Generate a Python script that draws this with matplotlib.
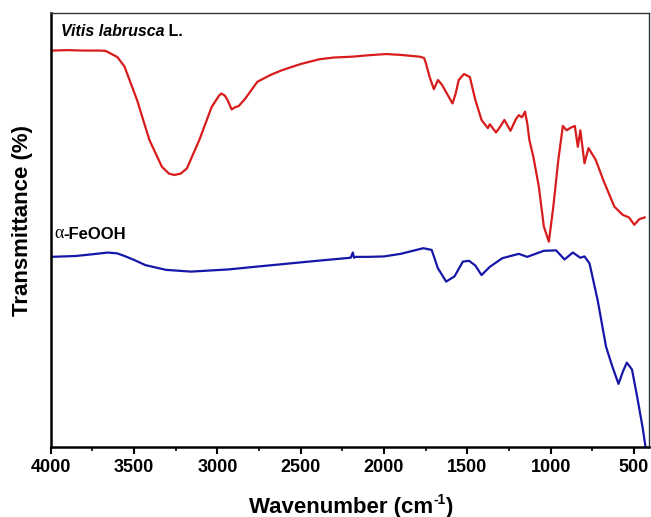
import matplotlib
matplotlib.use("Agg")
import matplotlib.pyplot as plt
import numpy as np

# FTIR spectra: wavenumber (cm^-1) and transmittance (arbitrary offset units)
vitis_wn = [3995, 3900, 3800, 3700, 3669, 3600, 3557, 3482, 3408, 3333, 3290, 3258,
            3220, 3183, 3108, 3034, 2990, 2976, 2955, 2939, 2914, 2895, 2872, 2835,
            2760, 2680, 2610, 2500, 2387, 2300, 2187, 2100, 1988, 1900, 1788, 1760,
            1751, 1727, 1701, 1676, 1652, 1620, 1589, 1570, 1552, 1520, 1485, 1452,
            1415, 1377, 1365, 1328, 1300, 1278, 1241, 1210, 1191, 1172, 1154, 1140,
            1128, 1104, 1071, 1041, 1011, 984, 954, 927, 904, 880, 855, 837, 822,
            797, 773, 730, 680, 618, 568, 530, 498, 468, 436]
vitis_t = [91.4, 91.5, 91.4, 91.4, 91.3, 89.9, 87.7, 80.0, 70.8, 64.6, 63.0, 62.7,
           63.0, 64.2, 70.8, 78.4, 81.0, 81.5, 81.0, 80.0, 77.8, 78.3, 78.6, 80.2,
           84.2, 85.8, 86.9, 88.3, 89.4, 89.8, 90.0, 90.3, 90.6, 90.4, 90.0, 89.7,
           88.8, 85.4, 82.5, 84.6, 83.5, 81.3, 79.2, 81.5, 84.6, 86.0, 85.3, 80.0,
           75.4, 73.5, 74.4, 72.5, 74.0, 75.4, 72.9, 75.5, 76.5, 76.0, 77.3, 74.5,
           70.8, 66.9, 60.0, 50.8, 47.3, 55.4, 66.2, 74.0, 73.0, 73.6, 74.0, 69.2,
           73.0, 65.4, 68.9, 66.2, 61.1, 55.4, 53.5, 52.9, 51.2, 52.5, 52.9]

feooh_wn = [4000, 3850, 3750, 3657, 3600, 3557, 3500, 3432, 3308, 3158, 2934, 2750,
            2561, 2400, 2200, 2187, 2180, 2170, 2100, 2000, 1900, 1764, 1714, 1677,
            1627, 1577, 1527, 1490, 1452, 1415, 1365, 1290, 1191, 1141, 1041, 967,
            917, 867, 822, 797, 767, 718, 668, 630, 593, 565, 543, 512, 481, 449,
            431]
feooh_t = [43.8, 44.0, 44.4, 44.8, 44.6, 44.0, 43.1, 41.9, 40.8, 40.4, 40.9, 41.6,
           42.3, 42.9, 43.6, 44.8, 43.6, 43.8, 43.8, 43.9, 44.5, 45.8, 45.4, 41.2,
           38.1, 39.3, 42.7, 42.9, 41.8, 39.6, 41.5, 43.5, 44.5, 43.8, 45.2, 45.3,
           43.2, 44.8, 43.6, 43.9, 42.3, 33.8, 23.1, 18.5, 14.5, 17.5, 19.4, 17.8,
           11.5, 4.6, 0.0]

plt.rcParams["font.family"] = ["Liberation Sans", "DejaVu Sans"]
plt.rcParams["font.weight"] = "bold"

W, H = 651, 517
fig = plt.figure(figsize=(W / 100, H / 100), dpi=100)
ax = fig.add_axes([50.7 / W, (H - 446.7) / H, 598.3 / W, 433.4 / H])

ax.plot(vitis_wn, vitis_t, color="#d81c1c", lw=1.6)
ax.plot(feooh_wn, feooh_t, color="#1616a8", lw=1.6)

ax.set_xlim(4000, 410)
ax.set_ylim(0, 100)
ax.set_xticks([4000, 3500, 3000, 2500, 2000, 1500, 1000, 500])
ax.set_xticks(np.arange(3750, 400, -500), minor=True)
ax.set_yticks([])
ax.tick_params(axis="x", which="major", direction="out", length=5, width=1.5,
               labelsize=13, pad=4)
ax.tick_params(axis="x", which="minor", direction="out", length=3, width=1.2)
for lbl in ax.get_xticklabels():
    lbl.set_fontweight("bold")

ax.spines["left"].set_linewidth(1.8)
ax.spines["bottom"].set_linewidth(1.8)
ax.spines["top"].set_linewidth(1.0)
ax.spines["right"].set_linewidth(1.0)
ax.spines["top"].set_color("#333333")
ax.spines["right"].set_color("#333333")

# y-axis title
fig.text(22.5 / W, 1 - 221 / H, "Transmittance (%)", rotation=90, fontsize=16,
         fontweight="bold", ha="center", va="center")

# x-axis title built from pieces so the superscript stays small
xl = fig.text(0.0, 0.0, "Wavenumber (cm", fontsize=16, fontweight="bold",
              va="baseline", ha="left")
sup = fig.text(0.0, 0.0, "-1", fontsize=10, fontweight="bold", va="baseline", ha="left")
close = fig.text(0.0, 0.0, ")", fontsize=16, fontweight="bold", va="baseline",
                 ha="left")
fig.canvas.draw()
r = fig.canvas.get_renderer()
w1 = xl.get_window_extent(r).width
w2 = sup.get_window_extent(r).width
w3 = close.get_window_extent(r).width
total = w1 + w2 + w3
x0 = 351.0 - total / 2
base = H - 512.5
xl.set_position((x0 / W, base / H))
sup.set_position(((x0 + w1) / W, (base + 9) / H))
close.set_position(((x0 + w1 + w2) / W, base / H))

# sample labels
t1 = ax.text(0.017, 0.948, "Vitis labrusca", transform=ax.transAxes, fontsize=11.5,
             fontweight="bold", style="italic", va="baseline", ha="left")
ax.annotate(" L.", xy=(1, 0), xycoords=t1, fontsize=11.5, fontweight="bold",
            va="bottom", ha="left")

t2 = ax.text(0.006, 0.482, "\u03b1", transform=ax.transAxes, fontsize=13,
             family=["Liberation Serif", "DejaVu Serif"], fontweight="normal",
             va="baseline", ha="left")
ax.annotate("-FeOOH", xy=(1, 0), xycoords=t2, fontsize=12, fontweight="bold",
            va="bottom", ha="left")

fig.savefig("out.png", dpi=100)
